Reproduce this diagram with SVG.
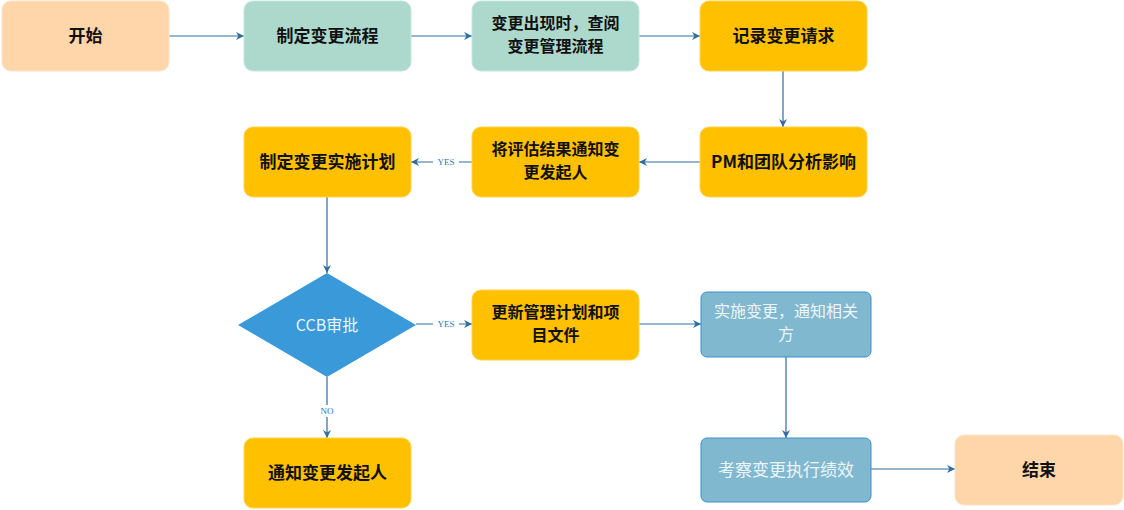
<svg xmlns="http://www.w3.org/2000/svg" width="1124" height="510" viewBox="0 0 1124 510">
<defs>
<marker id="arr" viewBox="0 0 10 10" refX="10" refY="5" markerWidth="8" markerHeight="8" markerUnits="userSpaceOnUse" orient="auto">
<path d="M0,0 L10,5 L0,10 L3,5 z" fill="#2E6DA4"/>
</marker>
<style>
.peach{fill:#FFD5AA;stroke:#FFE3C6;stroke-width:1}
.green{fill:#ACD9CC;stroke:#C6E6DC;stroke-width:1}
.gold{fill:#FFC000;stroke:#FFD24D;stroke-width:1}
.blue{fill:#80B9CF;stroke:#3A8FD0;stroke-width:1}
.dia{fill:#3A9AD9}
.t{font-family:"Noto Sans CJK SC","Liberation Sans",sans-serif;font-size:17px;font-weight:bold;fill:#111;text-anchor:middle}
.t2{font-family:"Noto Sans CJK SC","Liberation Sans",sans-serif;font-size:16px;font-weight:bold;fill:#111;text-anchor:middle}
.tw{font-family:"Noto Sans CJK SC","Liberation Sans",sans-serif;font-size:17px;fill:#EEF5F8;text-anchor:middle}
.tw2{font-family:"Noto Sans CJK SC","Liberation Sans",sans-serif;font-size:16px;fill:#EEF5F8;text-anchor:middle}
.lbl{font-family:"Liberation Serif",serif;font-size:9px;fill:#2E75B6;text-anchor:middle}
.c{stroke:#2E6DA4;stroke-width:1.2;fill:none;marker-end:url(#arr)}
</style>
</defs>
<g id="connectors">
<path class="c" d="M169,36 L244,36"/>
<path class="c" d="M411,36 L472,36"/>
<path class="c" d="M639,36 L700,36"/>
<path class="c" d="M783,71 L783,127"/>
<path class="c" d="M700,162 L639,162"/>
<path class="c" d="M472,162 L411,162"/>
<rect x="433" y="156" width="26" height="12" fill="#fff"/>
<text class="lbl" x="446" y="165">YES</text>
<path class="c" d="M327,197 L327,273"/>
<path class="c" d="M416,324 L472,324"/>
<rect x="433" y="318" width="26" height="12" fill="#fff"/>
<text class="lbl" x="446" y="327">YES</text>
<path class="c" d="M639,324 L701,324"/>
<path class="c" d="M327,377 L327,438"/>
<rect x="318" y="405" width="18" height="12" fill="#fff"/>
<text class="lbl" x="327" y="414">NO</text>
<path class="c" d="M786,357 L786,438"/>
<path class="c" d="M871,469 L955,469"/>
</g>
<g id="start"><rect class="peach" x="2" y="1" width="167" height="70" rx="9"/><text class="t" x="85.5" y="42">开始</text></g>
<g id="n1"><rect class="green" x="244" y="1" width="167" height="70" rx="9"/><text class="t" x="327.5" y="42">制定变更流程</text></g>
<g id="n2"><rect class="green" x="472" y="1" width="167" height="70" rx="9"/><text class="t2" x="555.5" y="29">变更出现时，查阅</text><text class="t2" x="555.5" y="52">变更管理流程</text></g>
<g id="n3"><rect class="gold" x="700" y="1" width="167" height="70" rx="9"/><text class="t" x="783.5" y="42">记录变更请求</text></g>
<g id="n4"><rect class="gold" x="700" y="127" width="167" height="70" rx="9"/><text class="t" x="783.5" y="168">PM和团队分析影响</text></g>
<g id="n5"><rect class="gold" x="472" y="127" width="167" height="70" rx="9"/><text class="t2" x="555.5" y="155">将评估结果通知变</text><text class="t2" x="555.5" y="178">更发起人</text></g>
<g id="n6"><rect class="gold" x="244" y="127" width="167" height="70" rx="9"/><text class="t" x="327.5" y="168">制定变更实施计划</text></g>
<g id="decision"><polygon class="dia" points="327,273 416,325 327,377 238,325"/><text class="tw" x="327" y="331" style="font-size:16px">CCB审批</text></g>
<g id="n7"><rect class="gold" x="472" y="290" width="167" height="70" rx="9"/><text class="t2" x="555.5" y="318">更新管理计划和项</text><text class="t2" x="555.5" y="341">目文件</text></g>
<g id="n8"><rect class="blue" x="701" y="292" width="170" height="65" rx="6"/><text class="tw2" x="786" y="317">实施变更，通知相关</text><text class="tw2" x="786" y="340">方</text></g>
<g id="n9"><rect class="gold" x="244" y="438" width="167" height="70" rx="9"/><text class="t" x="327.5" y="479">通知变更发起人</text></g>
<g id="n10"><rect class="blue" x="701" y="438" width="170" height="64" rx="6"/><text class="tw" x="786" y="476">考察变更执行绩效</text></g>
<g id="end"><rect class="peach" x="955" y="435" width="168" height="70" rx="9"/><text class="t" x="1039" y="476">结束</text></g>
</svg>
